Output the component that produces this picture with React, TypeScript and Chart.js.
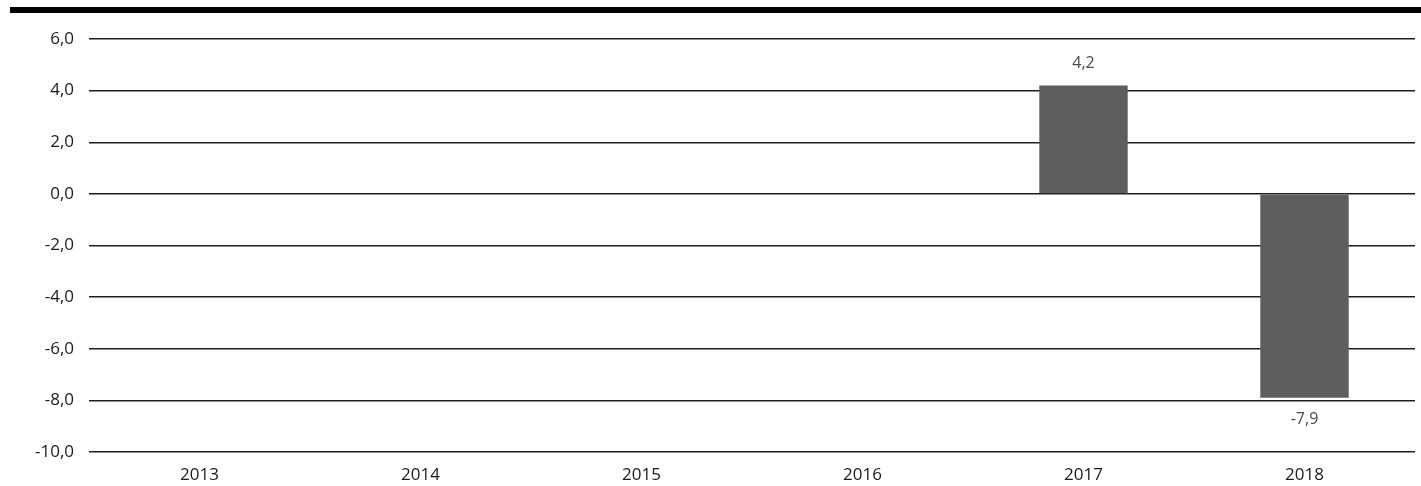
import React, { useEffect, useRef } from "react";
import { Chart, registerables } from "chart.js";

Chart.register(...registerables);

const categories = ["2013", "2014", "2015", "2016", "2017", "2018"];
const values: (number | null)[] = [null, null, null, null, 4.2, -7.9];
const yTicks = [6, 4, 2, 0, -2, -4, -6, -8, -10];

const fmt = (v: number) => v.toFixed(1).replace(".", ",");

const topRule = {
  id: "topRule",
  beforeDraw(chart: any) {
    const ctx = chart.ctx;
    ctx.save();
    ctx.fillStyle = "#000";
    ctx.fillRect(10, 7, chart.width - 10, 6);
    ctx.restore();
  },
};

const valueLabels = {
  id: "valueLabels",
  afterDatasetsDraw(chart: any) {
    const ctx = chart.ctx;
    const meta = chart.getDatasetMeta(0);
    ctx.save();
    ctx.font = "16px 'Open Sans'";
    ctx.fillStyle = "#4a4a4a";
    ctx.textAlign = "center";
    ctx.textBaseline = "middle";
    meta.data.forEach((bar: any, i: number) => {
      const v = values[i];
      if (v == null) return;
      const y = v >= 0 ? bar.y - 22 : bar.y + 22;
      ctx.fillText(fmt(v), bar.x, y);
    });
    ctx.restore();
  },
};

export default function App() {
  const ref = useRef<HTMLCanvasElement>(null);
  useEffect(() => {
    if (!ref.current) return;
    const chart = new Chart(ref.current, {
      type: "bar",
      data: {
        labels: categories,
        datasets: [
          {
            data: values,
            backgroundColor: "#5e5e5c",
            borderWidth: 0,
            barPercentage: 0.4,
            categoryPercentage: 1,
          },
        ],
      },
      options: {
        animation: false,
        responsive: false,
        maintainAspectRatio: false,
        layout: { padding: { top: 39, right: 6, left: 0, bottom: 0 } },
        plugins: { legend: { display: false }, tooltip: { enabled: false } },
        scales: {
          x: {
            grid: { display: false },
            border: { display: false },
            ticks: {
              color: "#1a1a1a",
              font: { family: "'Open Sans'", size: 17 },
              padding: 5,
              maxRotation: 0,
            },
            afterFit(scale: any) {
              scale.height = 34;
            },
          },
          y: {
            min: -10,
            max: 6,
            afterBuildTicks(scale: any) {
              scale.ticks = yTicks.map((v) => ({ value: v }));
            },
            grid: { color: "#1e1e1e", lineWidth: 1.5, drawTicks: false },
            border: { display: false },
            ticks: {
              color: "#1a1a1a",
              font: { family: "'Open Sans'", size: 17 },
              padding: 15,
              callback: (v: any) => fmt(Number(v)),
            },
            afterFit(scale: any) {
              scale.width = 89;
            },
          },
        },
      },
      plugins: [topRule, valueLabels],
    });
    return () => chart.destroy();
  }, []);
  return (
    <div style={{ position: "absolute", left: 0, top: 0, width: 1421, height: 486, background: "#fff" }}>
      <canvas ref={ref} width={1421} height={486} />
    </div>
  );
}
